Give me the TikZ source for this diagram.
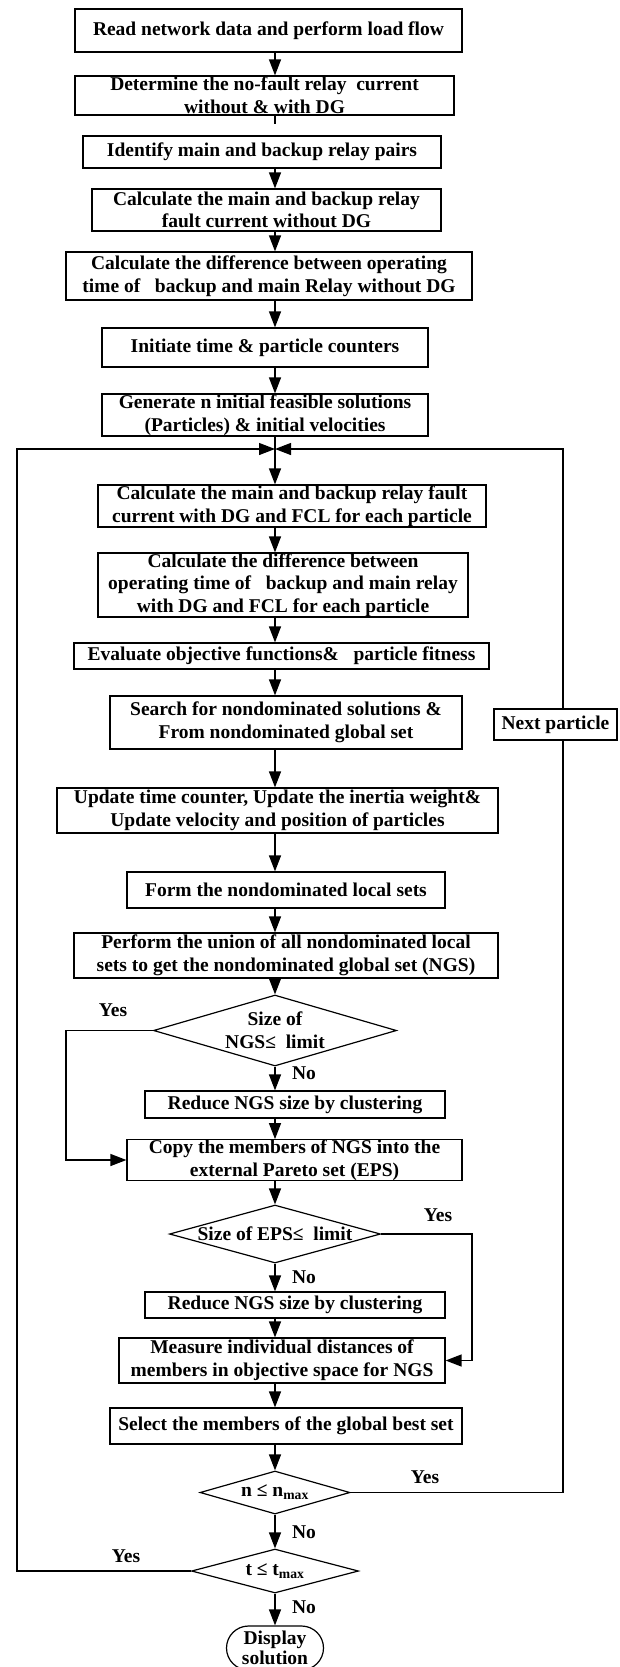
\documentclass[tikz,border=0pt]{standalone}
\usepackage{fontspec}
\setmainfont{Liberation Serif}
\usetikzlibrary{arrows.meta, positioning, shapes.geometric, shapes.misc}

\tikzset{
  procbox/.style={draw, line width=1.2pt, align=center, inner sep=0pt,
                  font=\fontsize{19.5}{22.7}\selectfont\bfseries},
  decbox/.style={diamond, draw, line width=1.2pt, align=center, inner sep=0pt,
                 font=\fontsize{19.5}{22.7}\selectfont\bfseries},
  termbox/.style={rounded rectangle, draw, line width=1.2pt, align=center, inner sep=0pt,
                  font=\fontsize{19.5}{20.5}\selectfont\bfseries},
  lbl/.style={font=\fontsize{19.5}{22.7}\selectfont\bfseries},
  flow/.style={line width=1.3pt},
  arr/.style={flow, -{Triangle[length=16pt,width=12pt]}}
}

\begin{document}
\begin{tikzpicture}[x=1pt, y=-1pt]
  \useasboundingbox (0,0) rectangle (619,1667);

  % initial steps
  \node[procbox, minimum width=387, minimum height=43] (read) at (268.5,30.5)
    {Read network data and perform load flow};
  \node[procbox, minimum width=379, minimum height=39] (nofault) at (264.5,95.5)
    {Determine the no-fault relay\ \ current\\without \& with DG};
  \node[procbox, minimum width=358, minimum height=32] (pairs) at (262,152)
    {Identify main and backup relay pairs};
  \node[procbox, minimum width=349, minimum height=42] (fault) at (266.5,210)
    {Calculate the main and backup relay\\fault current without DG};
  \node[procbox, minimum width=406, minimum height=48] (optime) at (269,276)
    {Calculate the difference between operating\\time of\ \ \ backup and main Relay without DG};
  \node[procbox, minimum width=326, minimum height=39] (counters) at (265,347.5)
    {Initiate time \& particle counters};
  \node[procbox, minimum width=326, minimum height=42] (gen) at (265,415)
    {Generate n initial feasible solutions\\(Particles) \& initial velocities};

  % main loop
  \node[procbox, minimum width=388, minimum height=42] (faultdg) at (292,506)
    {Calculate the main and backup relay fault\\current with DG and FCL for each particle};
  \node[procbox, minimum width=370, minimum height=64] (optimedg) at (283,585)
    {Calculate the difference between\\operating time of\ \ \ backup and main relay\\with DG and FCL for each particle};
  \node[procbox, minimum width=415, minimum height=26] (eval) at (281.5,656)
    {Evaluate objective functions\&\ \ \ particle fitness};
  \node[procbox, minimum width=352, minimum height=53] (search) at (286,722.5)
    {Search for nondominated solutions \&\\From nondominated global set};
  \node[procbox, minimum width=441, minimum height=45] (update) at (277.5,810.5)
    {Update time counter, Update the inertia weight\&\\Update velocity and position of particles};
  \node[procbox, minimum width=318, minimum height=36] (localsets) at (286,890)
    {Form the nondominated local sets};
  \node[procbox, minimum width=424, minimum height=45] (union) at (286,955.5)
    {Perform the union of all nondominated local\\sets to get the nondominated global set (NGS)};
  \node[decbox, aspect=3.4, minimum width=243, minimum height=71] (ngs) at (275,1030.5)
    {Size of\\NGS≤\ \ limit};
  \node[procbox, minimum width=300, minimum height=27] (reduceA) at (295,1104.5)
    {Reduce NGS size by clustering};
  \node[procbox, minimum width=335, minimum height=40] (copy) at (294.5,1160)
    {Copy the members of NGS into the\\external Pareto set (EPS)};
  \node[decbox, aspect=3.65, minimum width=211, minimum height=58] (eps) at (275,1234)
    {Size of EPS≤\ \ limit};
  \node[procbox, minimum width=300, minimum height=26] (reduceB) at (295,1305)
    {Reduce NGS size by clustering};
  \node[procbox, minimum width=326, minimum height=45] (measure) at (282,1360.5)
    {Measure individual distances of\\members in objective space for NGS};
  \node[procbox, minimum width=352, minimum height=36] (select) at (286,1426)
    {Select the members of the global best set};
  \node[decbox, aspect=3.5, minimum width=150, minimum height=43] (nmax) at (275,1492.5)
    {n ≤ n\textsubscript{max}};
  \node[decbox, aspect=3.8, minimum width=167, minimum height=44] (tmax) at (275,1571)
    {t ≤ t\textsubscript{max}};
  \node[termbox, minimum width=97, minimum height=44] (disp) at (275,1648)
    {Display\\solution};

  % helper points
  \coordinate (ax) at (275,0);
  \coordinate (stub) at (275,124);
  \coordinate (jn) at (275,449);
  \coordinate (lc) at (17,449);
  \coordinate (rc) at (563,449);
  \coordinate (yl) at (66,0);
  \coordinate (yr) at (472,0);

  % straight flow
  \draw[arr] (read.south -| ax) -- (nofault.north -| ax);
  \draw[flow] (nofault.south -| ax) -- (stub);
  \draw[arr] (pairs.south -| ax) -- (fault.north -| ax);
  \draw[arr] (fault.south -| ax) -- (optime.north -| ax);
  \draw[arr] (optime.south -| ax) -- (counters.north -| ax);
  \draw[arr] (counters.south -| ax) -- (gen.north -| ax);
  \draw[flow] (gen.south -| ax) -- (jn);
  \draw[arr] (jn) -- (faultdg.north -| ax);
  \draw[arr] (faultdg.south -| ax) -- (optimedg.north -| ax);
  \draw[arr] (optimedg.south -| ax) -- (eval.north -| ax);
  \draw[arr] (eval.south -| ax) -- (search.north -| ax);
  \draw[arr] (search.south -| ax) -- (update.north -| ax);
  \draw[arr] (update.south -| ax) -- (localsets.north -| ax);
  \draw[arr] (localsets.south -| ax) -- (union.north -| ax);
  \draw[arr] (union.south -| ax) -- (ngs.north);
  \draw[arr] (ngs.south) -- (reduceA.north -| ax);
  \draw[arr] (reduceA.south -| ax) -- (copy.north -| ax);
  \draw[arr] (copy.south -| ax) -- (eps.north);
  \draw[arr] (eps.south) -- (reduceB.north -| ax);
  \draw[arr] (reduceB.south -| ax) -- (measure.north -| ax);
  \draw[arr] (measure.south -| ax) -- (select.north -| ax);
  \draw[arr] (select.south -| ax) -- (nmax.north);
  \draw[arr] (nmax.south) -- (tmax.north);
  \draw[arr] (tmax.south) -- (disp.north);

  % side branches
  \draw[arr] (ngs.west) -- (ngs.west -| yl) |- (copy.west);
  \draw[arr] (eps.east) -- (eps.east -| yr) |- (measure.east);

  % loops back
  \draw[arr] (tmax.west) -| (lc) -- (jn);
  \draw[arr] (nmax.east) -| (rc) -- (jn);
  \node[procbox, fill=white, minimum width=123, minimum height=31] (next) at (555.5,724.5)
    {Next particle};

  % branch labels
  \node[lbl] (yesA) at (113,1010) {Yes};
  \node[lbl] (noA) at (304,1073) {No};
  \node[lbl] (yesB) at (438,1215) {Yes};
  \node[lbl] (noB) at (304,1277) {No};
  \node[lbl] (yesC) at (425,1477) {Yes};
  \node[lbl] (noC) at (304,1532) {No};
  \node[lbl] (yesD) at (126,1556) {Yes};
  \node[lbl] (noD) at (304,1607) {No};
\end{tikzpicture}
\end{document}
